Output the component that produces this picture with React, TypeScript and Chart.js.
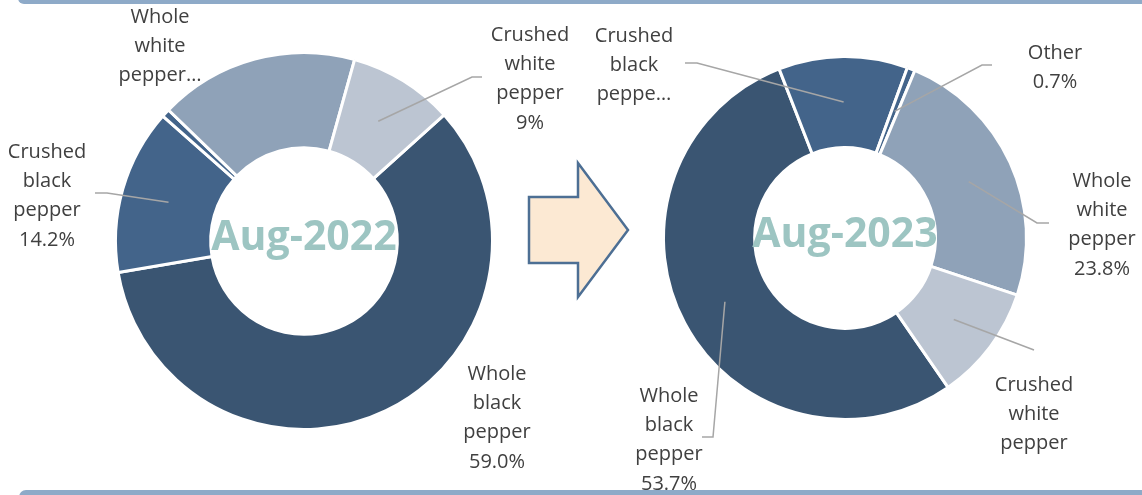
import React, { useEffect, useRef } from "react";
import { Chart, registerables } from "chart.js";

Chart.register(...registerables);

// ---------- data ----------
const categories = [
  "Whole black pepper",
  "Crushed black pepper",
  "Other",
  "Whole white pepper",
  "Crushed white pepper",
];
const values2022 = [59.0, 14.2, 0.7, 17.1, 9.0];
const values2023 = [53.7, 11.5, 0.7, 23.8, 10.3];
const title2022 = "Aug-2022";
const title2023 = "Aug-2023";
const labels2022 = [
  ["Whole", "black", "pepper", "59.0%"],
  ["Crushed", "black", "pepper", "14.2%"],
  [],
  ["Whole", "white", "pepper…"],
  ["Crushed", "white", "pepper", "9%"],
];
const labels2023 = [
  ["Whole", "black", "pepper", "53.7%"],
  ["Crushed", "black", "peppe…"],
  ["Other", "0.7%"],
  ["Whole", "white", "pepper", "23.8%"],
  ["Crushed", "white", "pepper"],
];

// ---------- styles / layout ----------
const sliceColors = ["#3a5572", "#43648a", "#43648a", "#8fa2b8", "#bcc5d2"];
const W = 1142;
const H = 495;
const FONT = '"Open Sans", "DejaVu Sans", sans-serif';
const LINE_H = 29.3;

type LabelLayout = { cx: number; y0: number; path: number[][] | null };

const layout2022: LabelLayout[] = [
  { cx: 497, y0: 374, path: null },
  { cx: 47, y0: 152, path: [[107, 193], [95, 193]] },
  { cx: 0, y0: 0, path: null },
  { cx: 160, y0: 17, path: null },
  { cx: 530, y0: 35, path: [[472, 77], [482, 77]] },
];
const layout2023: LabelLayout[] = [
  { cx: 669, y0: 396, path: [[713, 437], [702, 437]] },
  { cx: 634, y0: 36, path: [[697, 63], [685, 63]] },
  { cx: 1055, y0: 53, path: [[982, 65], [992, 65]] },
  { cx: 1102, y0: 181, path: [[1037, 223], [1049, 223]] },
  { cx: 1034, y0: 385, path: [[1034, 350]] },
];

function makeLabelPlugin(texts: string[][], lay: LabelLayout[], title: string) {
  return {
    id: "customLabels",
    afterDraw(chart: any) {
      const ctx = chart.ctx;
      const meta = chart.getDatasetMeta(0);
      ctx.save();
      // leader lines
      ctx.strokeStyle = "#a6a6a6";
      ctx.lineWidth = 1.5;
      meta.data.forEach((arc: any, i: number) => {
        const l = lay[i];
        if (!l || !l.path) return;
        const p = arc.tooltipPosition();
        ctx.beginPath();
        ctx.moveTo(p.x, p.y);
        l.path.forEach((pt) => ctx.lineTo(pt[0], pt[1]));
        ctx.stroke();
      });
      // label texts
      ctx.fillStyle = "#404040";
      ctx.font = `20px ${FONT}`;
      ctx.textAlign = "center";
      ctx.textBaseline = "middle";
      texts.forEach((lines, i) => {
        const l = lay[i];
        lines.forEach((s, k) => ctx.fillText(s, l.cx, l.y0 + k * LINE_H));
      });
      // centre title
      const a0 = meta.data[0];
      ctx.fillStyle = "#9dc5c2";
      ctx.font = `bold 41px ${FONT}`;
      ctx.fillText(title, a0.x, a0.y - 3);
      ctx.restore();
    },
  };
}

function Donut(props: {
  values: number[];
  texts: string[][];
  lay: LabelLayout[];
  title: string;
  rotation: number;
  radius: number;
  cutout: string;
  padding: { left: number; right: number; top: number; bottom: number };
}) {
  const ref = useRef<HTMLCanvasElement>(null);
  useEffect(() => {
    if (!ref.current) return;
    const chart = new Chart(ref.current, {
      type: "doughnut",
      data: {
        labels: categories,
        datasets: [
          {
            data: props.values,
            backgroundColor: sliceColors,
            borderColor: "#ffffff",
            borderWidth: 3,
          },
        ],
      },
      options: {
        animation: false,
        responsive: false,
        events: [],
        rotation: props.rotation,
        radius: props.radius,
        cutout: props.cutout,
        layout: { padding: props.padding },
        plugins: {
          legend: { display: false },
          tooltip: { enabled: false },
        },
      } as any,
      plugins: [makeLabelPlugin(props.texts, props.lay, props.title)],
    });
    return () => chart.destroy();
  }, []);
  return (
    <canvas
      ref={ref}
      width={W}
      height={H}
      style={{ position: "absolute", left: 0, top: 0, width: W, height: H }}
    />
  );
}

export default function App() {
  useEffect(() => {
    document.body.style.margin = "0";
  }, []);
  return (
    <div
      style={{
        position: "fixed",
        left: 0,
        top: 0,
        width: W,
        height: H,
        overflow: "hidden",
        background: "#ffffff",
      }}
    >
      <svg
        width={W}
        height={H}
        style={{ position: "absolute", left: 0, top: 0 }}
      >
        <polygon
          points="529,197 578,197 578,163 628,230 578,297 578,263 529,263"
          fill="#fce9d3"
          stroke="#4d6f94"
          strokeWidth={2.5}
        />
      </svg>
      <Donut
        values={values2022}
        texts={labels2022}
        lay={layout2022}
        title={title2022}
        rotation={48}
        radius={188.5}
        cutout="49.5%"
        padding={{ left: 0, right: W - 2 * 304, top: 0, bottom: H - 2 * 241 }}
      />
      <Donut
        values={values2023}
        texts={labels2023}
        lay={layout2023}
        title={title2023}
        rotation={145.4}
        radius={181.5}
        cutout="49.8%"
        padding={{ left: 2 * 845 - W, right: 0, top: 0, bottom: H - 2 * 238 }}
      />
      <div
        style={{
          position: "absolute",
          left: 18,
          top: -8,
          width: W + 20,
          height: 12,
          borderRadius: 7,
          background: "#8eaac8",
        }}
      />
      <div
        style={{
          position: "absolute",
          left: 19,
          top: 490,
          width: W + 20,
          height: 14,
          borderRadius: 7,
          background: "#8eaac8",
        }}
      />
    </div>
  );
}
